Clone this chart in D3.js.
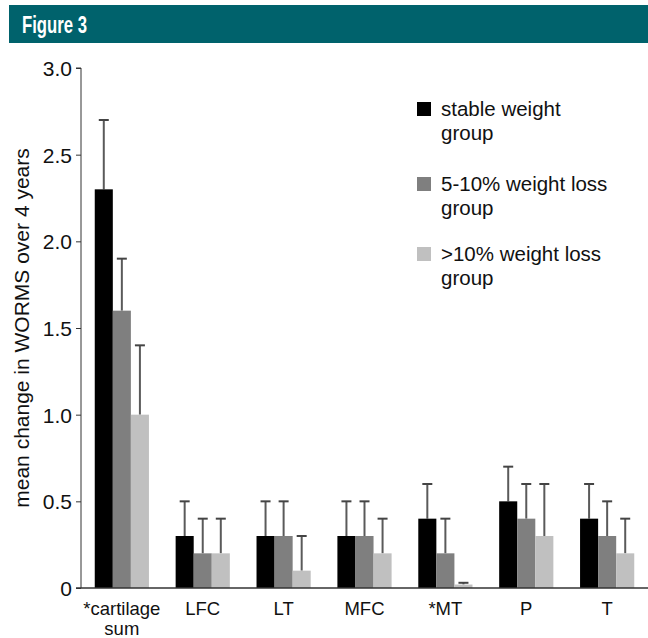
<!DOCTYPE html>
<html>
<head>
<meta charset="utf-8">
<script src="https://cdn.jsdelivr.net/npm/d3@7/dist/d3.min.js"></script>
<style>
  html, body { margin: 0; padding: 0; background: #fff; }
  svg { display: block; }
</style>
</head>
<body>
<svg id="chart" width="648" height="638"></svg>
<script>
// ---- data ----
const categories = ["*cartilage\nsum", "LFC", "LT", "MFC", "*MT", "P", "T"];
const seriesNames = ["stable weight\ngroup", "5-10% weight loss\ngroup", ">10% weight loss\ngroup"];
const seriesColors = ["#000000", "#7f7f7f", "#c0c0c0"];
const stableMean  = [2.3, 0.3, 0.3, 0.3, 0.4, 0.5, 0.4];
const stableUpper = [2.7, 0.5, 0.5, 0.5, 0.6, 0.7, 0.6];
const loss510Mean  = [1.6, 0.2, 0.3, 0.3, 0.2, 0.4, 0.3];
const loss510Upper = [1.9, 0.4, 0.5, 0.5, 0.4, 0.6, 0.5];
const loss10Mean  = [1.0, 0.2, 0.1, 0.2, 0.02, 0.3, 0.2];
const loss10Upper = [1.4, 0.4, 0.3, 0.4, 0.03, 0.6, 0.4];
const yTicks = [0, 0.5, 1.0, 1.5, 2.0, 2.5, 3.0];
const title = "Figure 3";
const yTitle = "mean change in WORMS over 4 years";

const means = [stableMean, loss510Mean, loss10Mean];
const uppers = [stableUpper, loss510Upper, loss10Upper];

const svg = d3.select("#chart");
const font = "'Liberation Sans', Arial, Helvetica, sans-serif";

// header band
svg.append("rect").attr("x", 9).attr("y", 5).attr("width", 639).attr("height", 38).attr("fill", "#00626c");
svg.append("text").attr("x", 22).attr("y", 33)
  .attr("font-family", font)
  .attr("textLength", 65).attr("lengthAdjust", "spacingAndGlyphs")
  .attr("font-weight", "bold").attr("font-size", 23).attr("fill", "#fff").text(title);

const x0 = d3.scaleBand().domain(categories).range([81, 648]).paddingInner(0.33).paddingOuter(0.17);
const x1 = d3.scaleBand().domain(d3.range(3)).range([0, x0.bandwidth()]).padding(0);
const y = d3.scaleLinear().domain([0, 3]).range([588, 68]);

// bars
const g = svg.append("g");
categories.forEach((c, i) => {
  const gg = g.append("g").attr("transform", `translate(${x0(c)},0)`);
  for (let s = 0; s < 3; s++) {
    const xs = x1(s);
    const cx = xs + x1.bandwidth() / 2;
    gg.append("line").attr("x1", cx).attr("x2", cx).attr("y1", y(means[s][i])).attr("y2", y(uppers[s][i]))
      .attr("stroke", "#5a5a5a").attr("stroke-width", 2);
    gg.append("line").attr("x1", cx - 5).attr("x2", cx + 5).attr("y1", y(uppers[s][i])).attr("y2", y(uppers[s][i]))
      .attr("stroke", "#444").attr("stroke-width", 2);
    gg.append("rect").attr("x", xs).attr("y", y(means[s][i]))
      .attr("width", x1.bandwidth()).attr("height", y(0) - y(means[s][i]))
      .attr("fill", seriesColors[s]);
  }
});

// y axis
const yAxis = d3.axisLeft(y).tickValues(yTicks).tickSize(5).tickPadding(4)
  .tickFormat(d => d === 0 ? "0" : d3.format(".1f")(d));
const ya = svg.append("g").attr("transform", "translate(81,0)").call(yAxis);
ya.select(".domain").attr("stroke", "#333").attr("d", `M-5,${y(3)}H0V${y(0)}`);
ya.selectAll(".tick line").attr("stroke", "#333");
ya.selectAll(".tick text").attr("font-family", font).attr("font-size", 21).attr("fill", "#111").attr("dy", "0.36em");

// x axis line
svg.append("line").attr("x1", 76).attr("x2", 648).attr("y1", y(0)).attr("y2", y(0)).attr("stroke", "#333").attr("stroke-width", 1.5);

// x labels
categories.forEach(c => {
  const lines = c.split("\n");
  const t = svg.append("text").attr("font-family", font).attr("font-size", 18.5).attr("fill", "#111")
    .attr("text-anchor", "middle");
  lines.forEach((l, k) => {
    t.append("tspan").attr("x", x0(c) + x0.bandwidth() / 2).attr("y", 615 + k * 20).text(l);
  });
});

// y title
svg.append("text").attr("transform", "translate(28.5,328) rotate(-90)")
  .attr("text-anchor", "middle").attr("font-family", font).attr("font-size", 21).attr("fill", "#111")
  .text(yTitle);

// legend
const legendBase = [116, 191, 261];
seriesNames.forEach((n, s) => {
  svg.append("rect").attr("x", 417).attr("y", legendBase[s] - 14).attr("width", 14).attr("height", 14)
    .attr("fill", seriesColors[s]);
  const t = svg.append("text").attr("font-family", font).attr("font-size", 20.5).attr("fill", "#111");
  n.split("\n").forEach((l, k) => {
    t.append("tspan").attr("x", 441).attr("y", legendBase[s] + k * 24).text(l);
  });
});
</script>
</body>
</html>
